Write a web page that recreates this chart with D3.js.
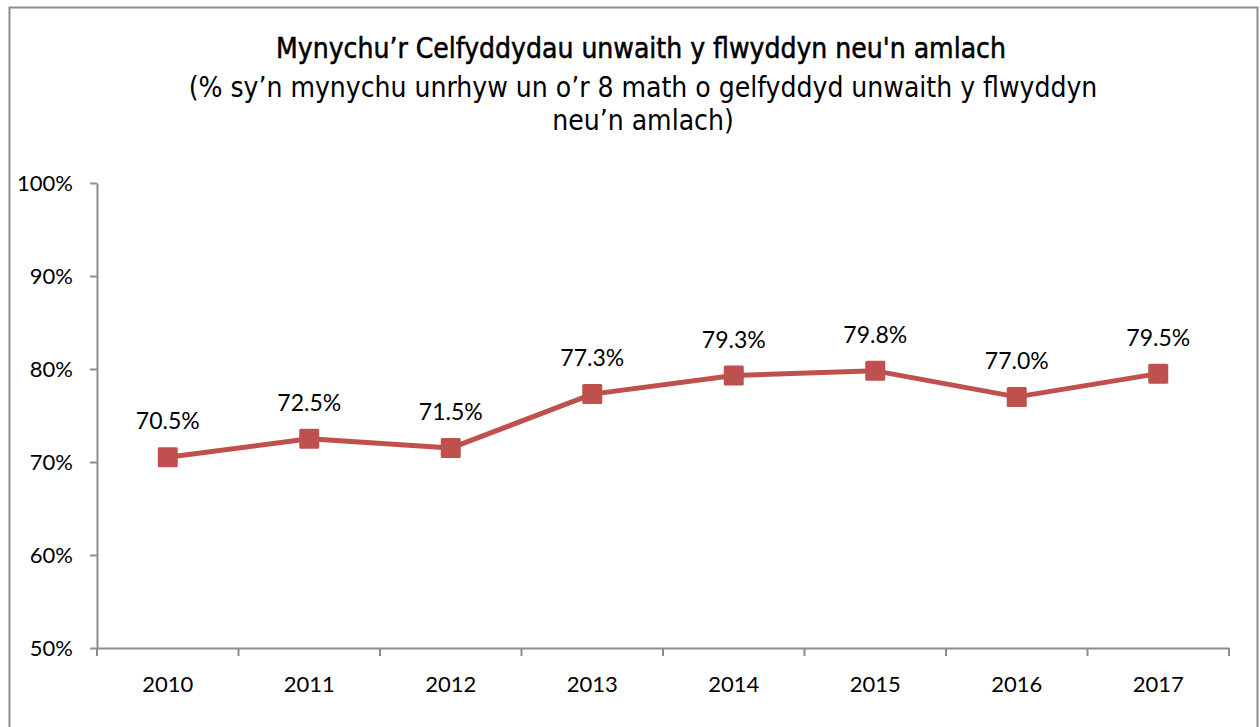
<!DOCTYPE html>
<html>
<head>
<meta charset="utf-8">
<script src="https://cdn.jsdelivr.net/npm/d3@7"></script>
<style>
  body { margin: 0; background: #fff; }
  svg { display: block; }
</style>
</head>
<body>
<div id="chart"></div>
<script>
var years = ['2010', '2011', '2012', '2013', '2014', '2015', '2016', '2017'];
var values = [70.5, 72.5, 71.5, 77.3, 79.3, 79.8, 77.0, 79.5];
var yTicks = [50, 60, 70, 80, 90, 100];
var titleText = 'Mynychu\u2019r Celfyddydau unwaith y flwyddyn neu\'n amlach';
var subtitleLines = ['(% sy\u2019n mynychu unrhyw un o\u2019r 8 math o gelfyddyd unwaith y flwyddyn', 'neu\u2019n amlach)'];

var width = 1260,
    height = 727,
    margin = {top: 183, right: 31, bottom: 79, left: 97};

var svg = d3.select('#chart')
    .append('svg')
    .attr('width', width)
    .attr('height', height);

// outer frame
svg.append('rect')
    .attr('x', 9.5)
    .attr('y', 7.5)
    .attr('width', 1248)
    .attr('height', 740)
    .attr('fill', 'none')
    .attr('stroke', '#8c8c8c')
    .attr('stroke-width', 2);

// titles
svg.append('text')
    .attr('x', 641)
    .attr('y', 58)
    .attr('text-anchor', 'middle')
    .style('font-family', '"DejaVu Sans Condensed", "DejaVu Sans", sans-serif')
    .style('font-size', '28px')
    .style('stroke', '#000')
    .style('stroke-width', 0.5)
    .style('fill', '#000')
    .text(titleText);

svg.selectAll('.subtitle')
    .data(subtitleLines)
    .enter().append('text')
    .attr('class', 'subtitle')
    .attr('x', 643)
    .attr('y', (d, i) => 97 + i * 33)
    .attr('text-anchor', 'middle')
    .style('font-family', '"DejaVu Sans Condensed", "DejaVu Sans", sans-serif')
    .style('font-size', '28px')
    .style('font-weight', '300')
    .style('fill', '#000')
    .text(d => d);

var g = svg.append('g')
    .attr('transform', `translate(${margin.left},${margin.top})`);

var w = width - margin.left - margin.right,
    h = 648 - margin.top;

var x = d3.scaleBand().domain(years).range([0, w]);
var y = d3.scaleLinear().domain([50, 100]).range([h, 0]);

var axisColor = '#8c8c8c';
var tickFont = 'Lato, "Open Sans", sans-serif';

// y axis
var yAxis = g.append('g')
    .call(d3.axisLeft(y).tickValues(yTicks).tickFormat(d => d + '%').tickSize(7).tickSizeOuter(0));
yAxis.select('.domain').attr('stroke', axisColor).attr('stroke-width', 2);
yAxis.selectAll('.tick line').attr('stroke', axisColor).attr('stroke-width', 2);
yAxis.selectAll('.tick text')
    .attr('x', -24)
    .style('font-family', tickFont)
    .style('font-size', '22px')
    .style('fill', '#000');

// x axis
var xAxis = g.append('g')
    .attr('transform', `translate(0,${h})`)
    .call(d3.axisBottom(x).tickSize(0).tickSizeOuter(0));
xAxis.select('.domain').attr('stroke', axisColor).attr('stroke-width', 2);
xAxis.selectAll('.tick text')
    .attr('y', 28)
    .style('font-family', tickFont)
    .style('font-size', '22px')
    .style('fill', '#000');

// x boundary ticks between categories
var bounds = years.map(d => x(d)).concat([w]);
xAxis.selectAll('.bound')
    .data(bounds)
    .enter().append('line')
    .attr('class', 'bound')
    .attr('x1', d => d)
    .attr('x2', d => d)
    .attr('y1', 0)
    .attr('y2', 8)
    .attr('stroke', axisColor)
    .attr('stroke-width', 2);

var cx = (d, i) => x(years[i]) + x.bandwidth() / 2;

// line
var line = d3.line()
    .x((d, i) => cx(d, i))
    .y(d => y(d));

g.append('path')
    .datum(values)
    .attr('d', line)
    .attr('fill', 'none')
    .attr('stroke', '#c0504d')
    .attr('stroke-width', 5)
    .attr('stroke-linejoin', 'round');

// markers
var ms = 20;
g.selectAll('.marker')
    .data(values)
    .enter().append('rect')
    .attr('class', 'marker')
    .attr('x', (d, i) => cx(d, i) - ms / 2)
    .attr('y', d => y(d) - ms / 2)
    .attr('width', ms)
    .attr('height', ms)
    .attr('rx', 1.5)
    .attr('fill', '#c0504d');

// labels
g.selectAll('.label')
    .data(values)
    .enter().append('text')
    .attr('class', 'label')
    .attr('x', (d, i) => cx(d, i))
    .attr('y', d => y(d) - 28)
    .attr('text-anchor', 'middle')
    .style('font-family', tickFont)
    .style('font-size', '23px')
    .style('fill', '#000')
    .text(d => d.toFixed(1) + '%');
</script>
</body>
</html>
